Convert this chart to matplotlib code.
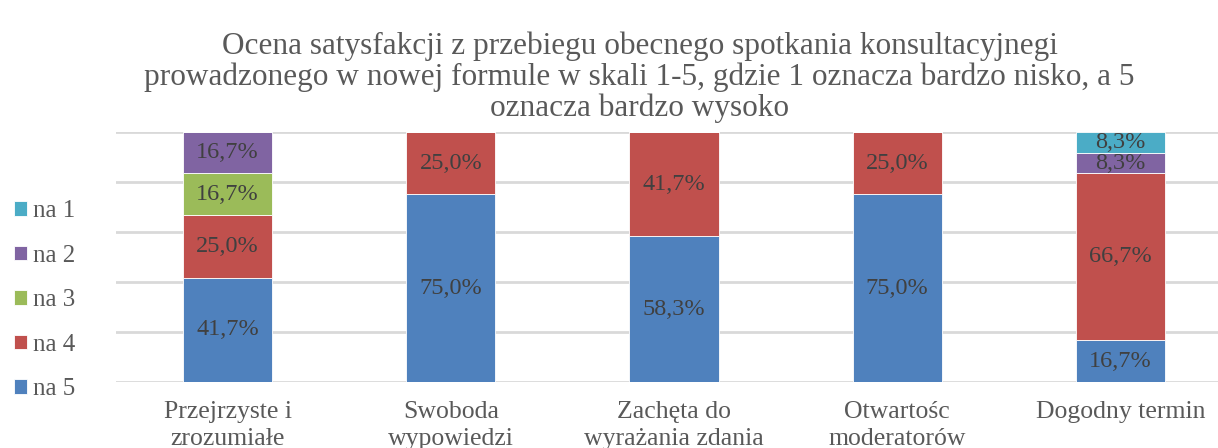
import matplotlib
matplotlib.use('Agg')
import matplotlib.pyplot as plt
import numpy as np

# data
categories = ['Przejrzyste i\nzrozumiałe', 'Swoboda\nwypowiedzi', 'Zachęta do\nwyrażania zdania',
              'Otwartośc\nmoderatorów', 'Dogodny termin']
series_names = ['na 5', 'na 4', 'na 3', 'na 2', 'na 1']
na5 = [41.7, 75.0, 58.3, 75.0, 16.7]
na4 = [25.0, 25.0, 41.7, 25.0, 66.7]
na3 = [16.7, 0, 0, 0, 0]
na2 = [16.7, 0, 0, 0, 8.3]
na1 = [0, 0, 0, 0, 8.3]
colors = ['#4f81bd', '#c0504d', '#9bbb59', '#8064a2', '#4bacc6']

title = ('Ocena satysfakcji z przebiegu obecnego spotkania konsultacyjnegi\n'
         'prowadzonego w nowej formule w skali 1-5, gdzie 1 oznacza bardzo nisko, a 5\n'
         'oznacza bardzo wysoko')

plt.rcParams['font.family'] = ['Liberation Serif', 'DejaVu Serif']

fig = plt.figure(figsize=(12.18, 4.48), dpi=100)
# axes runs a bit past the right edge (chart was cropped there)
ax = fig.add_axes([0.0952, 0.1473, 0.9163, 0.5581])

x = np.arange(len(categories))
bottom = np.zeros(len(categories))
handles = []
for name, vals, col in zip(series_names, [na5, na4, na3, na2, na1], colors):
    vals = np.array(vals, dtype=float)
    bars = ax.bar(x, vals, 0.4, bottom=bottom, color=col, edgecolor='white',
                  linewidth=0.6, label=name, zorder=3)
    handles.append(bars)
    for xi, b, v in zip(x, bottom, vals):
        if v > 0:
            ax.text(xi, b + v / 2, ('%.1f%%' % v).replace('.', ','), ha='center', va='center',
                    fontsize=17.5, color='#404040', zorder=4)
    bottom += vals

ax.set_ylim(0, 100)
ax.set_xlim(-0.5, 4.5)
ax.set_yticks(np.arange(0, 101, 20))
ax.set_yticklabels([])
ax.tick_params(axis='y', length=0)
ax.tick_params(axis='x', length=0, pad=14, labelsize=18.5, labelcolor='#595959')
ax.set_xticks(x)
ax.set_xticklabels(categories, linespacing=1.25)
ax.grid(axis='y', color='#d9d9d9', linewidth=2, zorder=0)
for s in ax.spines.values():
    s.set_visible(False)

fig.text(0.525, 0.828, title, ha='center', va='center', fontsize=22.5, color='#595959',
         linespacing=1.08)

leg = fig.legend(handles[::-1], series_names[::-1], loc='center left',
                 bbox_to_anchor=(14 / 1218, 0.330), frameon=False, fontsize=18,
                 handlelength=0.52, handleheight=0.52, handletextpad=0.25,
                 labelspacing=0.9, borderpad=0, borderaxespad=0,
                 labelcolor='#595959')

fig.savefig('out.png', dpi=100)
